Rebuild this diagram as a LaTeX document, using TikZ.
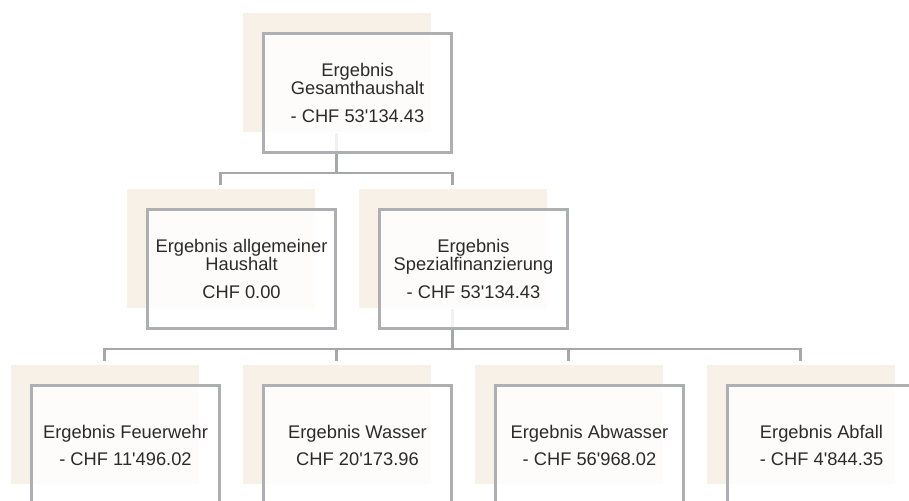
\documentclass[tikz,border=0pt]{standalone}
\usepackage{fontspec}
\setmainfont{Liberation Sans}
\usetikzlibrary{positioning}
\definecolor{platebeige}{HTML}{F8F1E7}
\definecolor{framegray}{HTML}{ADAFB2}
\definecolor{linkgray}{HTML}{A5A7AA}
\definecolor{textgray}{HTML}{2B2B2B}
\newcommand{\apo}{\textquotesingle}
\tikzset{node distance = 88pt and 116pt, on grid,
         plate/.style = {fill = platebeige,
                         minimum width = 94pt, minimum height = 59.5pt,
                         inner sep = 0pt},
         tile/.style = {draw = framegray, line width = 1.5pt,
                        fill = white, fill opacity = 0.85, text opacity = 1,
                        text = textgray, align = center,
                        minimum width = 94pt, minimum height = 59.5pt,
                        inner sep = 0pt,
                        font = \fontsize{9.15pt}{9pt}\selectfont},
         link/.style = {draw = linkgray, line width = 1.3pt,
                        shorten >= 2pt}}

\begin{document}
\begin{tikzpicture}
        \useasboundingbox (0,0) rectangle (454.5pt,250.5pt);

        % beige plates, they carry the tree
        \node[plate] (gesamt)   at (168.25pt,214pt)                          {};
        \node[plate] (allg)     [below left = 88pt and 58pt of gesamt]       {};
        \node[plate] (spezial)  [below right = 88pt and 58pt of gesamt]      {};
        \node[plate] (wasser)   [below left = 88pt and 58pt of spezial]      {};
        \node[plate] (feuer)    [left = 116pt of wasser]                     {};
        \node[plate] (abwasser) [below right = 88pt and 58pt of spezial]     {};
        \node[plate] (abfall)   [right = 116pt of abwasser]                  {};

        \path[link] (gesamt.south)  -- ++(0,-20pt) -| (allg.north);
        \path[link] (gesamt.south)  -- ++(0,-20pt) -| (spezial.north);
        \path[link] (spezial.south) -- ++(0,-20pt) -| (feuer.north);
        \path[link] (spezial.south) -- ++(0,-20pt) -| (wasser.north);
        \path[link] (spezial.south) -- ++(0,-20pt) -| (abwasser.north);
        \path[link] (spezial.south) -- ++(0,-20pt) -| (abfall.north);

        % framed boxes on top
        \node[tile] (gesamt tile)   [below right = 10pt and 10.5pt of gesamt]
              {Ergebnis\\Gesamthaushalt\\[4.75pt]- CHF 53\apo134.43};
        \node[tile] (allg tile)     [below right = 10pt and 10.5pt of allg]
              {Ergebnis allgemeiner\\Haushalt\\[4.75pt]CHF 0.00};
        \node[tile] (spezial tile)  [below right = 10pt and 10.5pt of spezial]
              {Ergebnis\\Spezialfinanzierung\\[4.75pt]- CHF 53\apo134.43};
        \node[tile] (feuer tile)    [below right = 10pt and 10.5pt of feuer]
              {Ergebnis Feuerwehr\\[4.5pt]- CHF 11\apo496.02};
        \node[tile] (wasser tile)   [below right = 10pt and 10.5pt of wasser]
              {Ergebnis Wasser\\[4.5pt]CHF 20\apo173.96};
        \node[tile] (abwasser tile) [below right = 10pt and 10.5pt of abwasser]
              {Ergebnis Abwasser\\[4.5pt]- CHF 56\apo968.02};
        \node[tile] (abfall tile)   [below right = 10pt and 10.5pt of abfall]
              {Ergebnis Abfall\\[4.5pt]- CHF 4\apo844.35};
\end{tikzpicture}
\end{document}
